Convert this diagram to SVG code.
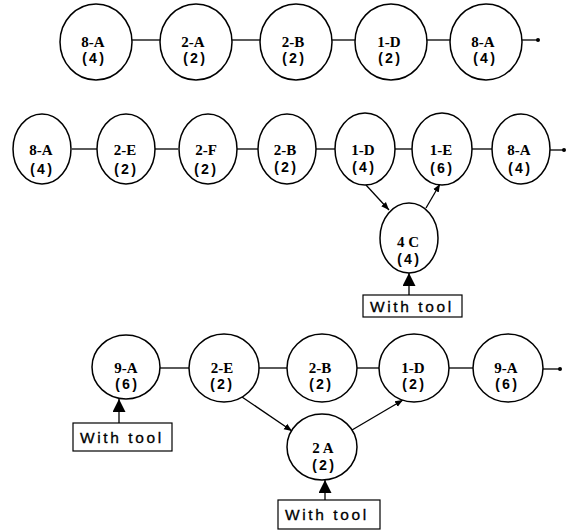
<svg xmlns="http://www.w3.org/2000/svg" width="574" height="532" viewBox="0 0 574 532">
<style>
.n ellipse{fill:#fff;stroke:#000;stroke-width:1.5}
.l{font-family:"Liberation Serif",serif;font-weight:bold;font-size:15px;text-anchor:middle;fill:#000}
.c{font-family:"Liberation Mono",monospace;font-weight:bold;font-size:14px;text-anchor:middle;fill:#000}
.w{font-family:"Liberation Sans",sans-serif;font-size:15.5px;fill:#000;letter-spacing:2.6px;stroke:#000;stroke-width:0.3}
.e line{stroke:#000;stroke-width:1.3}
.b{fill:#fff;stroke:#000;stroke-width:1.2}
</style>
<defs>
<marker id="ah" viewBox="0 0 10 10" refX="10" refY="5" markerWidth="8" markerHeight="8" markerUnits="userSpaceOnUse" orient="auto"><path d="M0,1 L10,5 L0,9 z" fill="#000"/></marker>
<marker id="big" viewBox="0 0 10 10" refX="10" refY="5" markerWidth="15" markerHeight="13" markerUnits="userSpaceOnUse" orient="auto"><path d="M0,0 L10,5 L0,10 z" fill="#000"/></marker>
</defs>
<g id="connectors" class="e">
<line x1="132" y1="40" x2="160" y2="40"/>
<line x1="232" y1="40" x2="260" y2="40"/>
<line x1="332" y1="40" x2="355" y2="40"/>
<line x1="427" y1="40" x2="450" y2="40"/>
<line x1="522" y1="40" x2="538" y2="40"/>
<circle cx="538" cy="40" r="2" fill="#000"/>
<line x1="72" y1="149" x2="97" y2="149"/>
<line x1="155" y1="149" x2="178" y2="149"/>
<line x1="237" y1="149" x2="258" y2="149"/>
<line x1="316" y1="149" x2="335" y2="149"/>
<line x1="395" y1="149" x2="413" y2="149"/>
<line x1="472" y1="149" x2="492" y2="149"/>
<line x1="550" y1="150" x2="564" y2="150"/>
<circle cx="564" cy="150" r="2" fill="#000"/>
<line x1="366" y1="185" x2="389" y2="210" marker-end="url(#ah)"/>
<line x1="426" y1="208" x2="440" y2="184" marker-end="url(#ah)"/>
<line x1="409" y1="295" x2="409" y2="273" marker-end="url(#big)"/>
<line x1="160" y1="368" x2="189" y2="368"/>
<line x1="259" y1="368" x2="287" y2="368"/>
<line x1="357" y1="368" x2="379" y2="368"/>
<line x1="449" y1="368" x2="473" y2="368"/>
<line x1="543" y1="369" x2="560" y2="369"/>
<circle cx="560" cy="369" r="2" fill="#000"/>
<line x1="242" y1="397" x2="292" y2="431" marker-end="url(#ah)"/>
<line x1="352" y1="430" x2="403" y2="400" marker-end="url(#ah)"/>
<line x1="119" y1="423" x2="119" y2="399" marker-end="url(#big)"/>
<line x1="325" y1="500" x2="325" y2="480" marker-end="url(#big)"/>
</g>
<g id="r1n1" class="n"><ellipse cx="96" cy="42" rx="36" ry="38"/><text class="l" x="93" y="47">8-A</text><text class="c" x="93" y="63">(4)</text></g>
<g id="r1n2" class="n"><ellipse cx="196" cy="42" rx="36" ry="38"/><text class="l" x="193" y="47">2-A</text><text class="c" x="194" y="63">(2)</text></g>
<g id="r1n3" class="n"><ellipse cx="296" cy="42" rx="36" ry="38"/><text class="l" x="293" y="47">2-B</text><text class="c" x="293" y="63">(2)</text></g>
<g id="r1n4" class="n"><ellipse cx="391" cy="42" rx="36" ry="38"/><text class="l" x="389" y="47">1-D</text><text class="c" x="389" y="63">(2)</text></g>
<g id="r1n5" class="n"><ellipse cx="486" cy="42" rx="36" ry="38"/><text class="l" x="483" y="47">8-A</text><text class="c" x="484" y="63">(4)</text></g>
<g id="r2n1" class="n"><ellipse cx="42" cy="149" rx="29" ry="35"/><text class="l" x="41" y="155">8-A</text><text class="c" x="41" y="174">(4)</text></g>
<g id="r2n2" class="n"><ellipse cx="126" cy="149" rx="29" ry="35"/><text class="l" x="125" y="155">2-E</text><text class="c" x="125" y="174">(2)</text></g>
<g id="r2n3" class="n"><ellipse cx="208" cy="149" rx="29" ry="35"/><text class="l" x="206" y="155">2-F</text><text class="c" x="205" y="174">(2)</text></g>
<g id="r2n4" class="n"><ellipse cx="287" cy="149" rx="29" ry="35"/><text class="l" x="285" y="155">2-B</text><text class="c" x="285" y="172">(2)</text></g>
<g id="r2n5" class="n"><ellipse cx="365" cy="149" rx="30" ry="36"/><text class="l" x="363" y="155">1-D</text><text class="c" x="363" y="172">(4)</text></g>
<g id="r2n6" class="n"><ellipse cx="442" cy="149" rx="30" ry="36"/><text class="l" x="441" y="155">1-E</text><text class="c" x="441" y="173">(6)</text></g>
<g id="r2n7" class="n"><ellipse cx="521" cy="149" rx="29" ry="35"/><text class="l" x="519" y="155">8-A</text><text class="c" x="519" y="173">(4)</text></g>
<g id="n4c" class="n"><ellipse cx="409" cy="238" rx="29" ry="35"/><text class="l" x="408" y="247">4 C</text><text class="c" x="408" y="264">(4)</text></g>
<g id="tool1"><rect class="b" x="363" y="295" width="99" height="22"/><text class="w" x="370" y="312">With tool</text></g>
<g id="r3n1" class="n"><ellipse cx="126" cy="367" rx="34" ry="32"/><text class="l" x="126" y="373">9-A</text><text class="c" x="126" y="389">(6)</text></g>
<g id="r3n2" class="n"><ellipse cx="224" cy="368" rx="35" ry="34"/><text class="l" x="222" y="373">2-E</text><text class="c" x="221" y="389">(2)</text></g>
<g id="r3n3" class="n"><ellipse cx="322" cy="368" rx="35" ry="34"/><text class="l" x="320" y="373">2-B</text><text class="c" x="320" y="389">(2)</text></g>
<g id="r3n4" class="n"><ellipse cx="414" cy="368" rx="35" ry="34"/><text class="l" x="413" y="373">1-D</text><text class="c" x="413" y="389">(2)</text></g>
<g id="r3n5" class="n"><ellipse cx="508" cy="368" rx="35" ry="34"/><text class="l" x="506" y="373">9-A</text><text class="c" x="506" y="389">(6)</text></g>
<g id="n2a" class="n"><ellipse cx="322" cy="447" rx="35" ry="33"/><text class="l" x="323" y="453">2 A</text><text class="c" x="323" y="470">(2)</text></g>
<g id="tool2"><rect class="b" x="73" y="423" width="99" height="28"/><text class="w" x="80" y="443">With tool</text></g>
<g id="tool3"><rect class="b" x="278" y="500" width="102" height="29"/><text class="w" x="285" y="520">With tool</text></g>
</svg>
